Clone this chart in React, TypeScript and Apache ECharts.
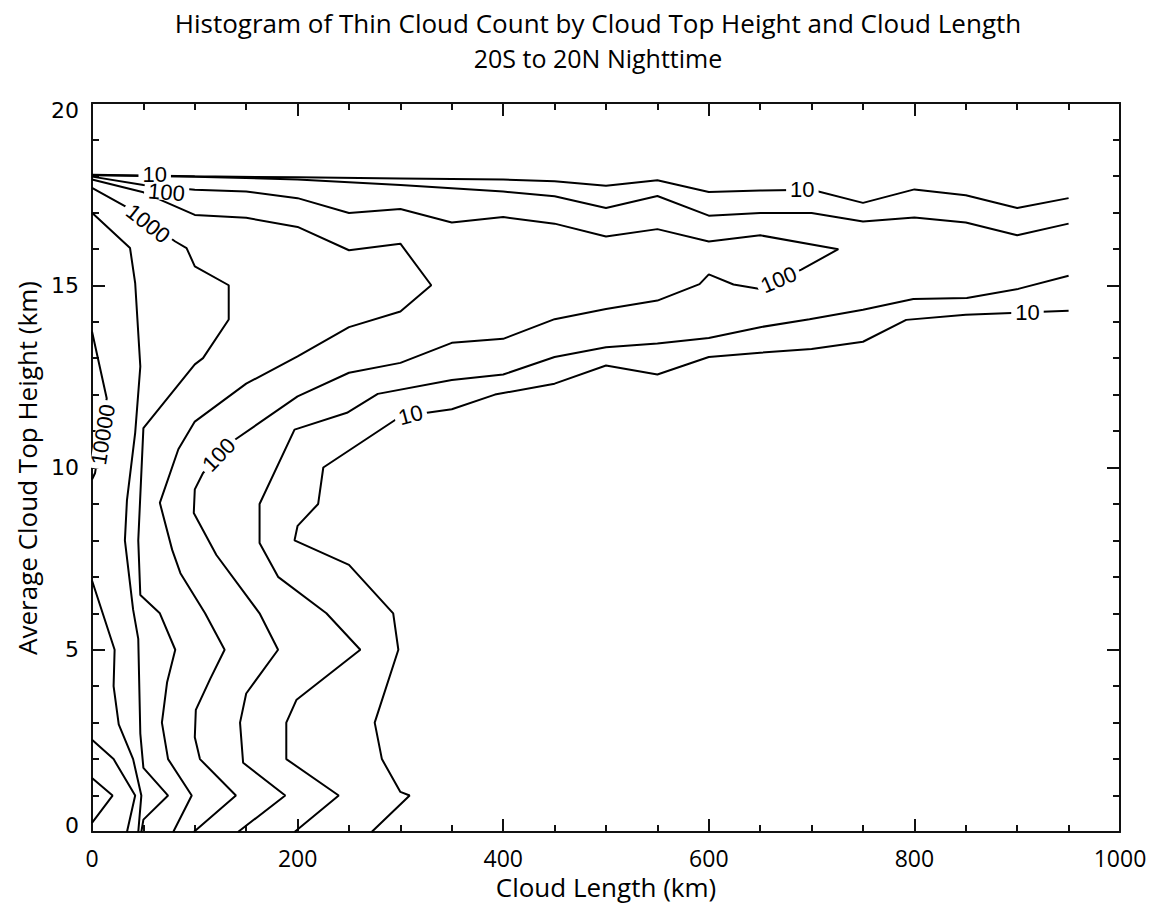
import React, { useEffect, useRef } from "react";
import * as echarts from "echarts";

// Contour polylines of the thin-cloud count histogram: [cloud length (km), cloud top height (km)]
const level10Upper: number[][] = [
  [0, 18.03], [100, 17.99], [200, 17.96], [300, 17.93], [400, 17.9], [450, 17.85], [500, 17.73],
  [550, 17.88], [600, 17.56], [650, 17.6], [700, 17.62], [750, 17.26], [800, 17.63], [850, 17.47],
  [900, 17.12], [950, 17.39],
];
const level10Lower: number[][] = [
  [950, 14.3], [850, 14.19], [792, 14.05], [750, 13.45], [700, 13.25], [650, 13.15], [600, 13.03],
  [550, 12.55], [500, 12.8], [450, 12.3], [392, 12], [350, 11.6], [300, 11.4], [225, 10], [220, 9],
  [200, 8.4], [197, 8], [250, 7.33], [293, 6], [298, 5], [275, 3], [282, 2], [300, 1.1], [309, 1], [272, 0],
];
const level30Upper: number[][] = [
  [0, 18.02], [100, 17.98], [200, 17.9], [300, 17.75], [400, 17.57], [450, 17.44], [500, 17.12],
  [550, 17.45], [600, 16.91], [650, 16.98], [700, 16.98], [750, 16.75], [800, 16.86], [850, 16.72],
  [900, 16.37], [950, 16.69],
];
const level30Lower: number[][] = [
  [950, 15.26], [901, 14.9], [851, 14.65], [799, 14.62], [750, 14.33], [698, 14.07], [650, 13.85],
  [600, 13.55], [550, 13.4], [500, 13.3], [450, 13.03], [400, 12.55], [350, 12.4], [278, 12.02],
  [248, 11.5], [197, 11.04], [163, 9], [163, 7.93], [181, 7], [228, 6], [261, 5], [199, 3.63],
  [189, 3], [189, 2], [240, 1], [197, 0],
];
const level100: number[][] = [
  [0, 17.98], [50, 17.75], [100, 17.62], [150, 17.57], [200, 17.39], [250, 16.98], [300, 17.09],
  [350, 16.72], [400, 16.87], [450, 16.69], [500, 16.34], [550, 16.54], [600, 16.2], [650, 16.37],
  [726, 15.99], [690, 15.43], [650, 14.9], [624, 15.02], [600, 15.3], [591, 15.03], [550, 14.58],
  [500, 14.35], [450, 14.07], [400, 13.53], [350, 13.42], [300, 12.87], [250, 12.6], [200, 11.95],
  [139, 10.76], [108, 9.85], [100, 9.4], [99, 8.75], [121, 7.6], [163, 6], [181, 5], [150, 3.8],
  [144, 3], [147, 1.9], [188, 1], [142, 0],
];
const level300: number[][] = [
  [0, 17.9], [50, 17.55], [100, 16.93], [150, 16.85], [200, 16.6], [250, 15.96], [300, 16.14],
  [330, 15], [300, 14.28], [250, 13.85], [200, 13.05], [150, 12.3], [100, 11.26], [84, 10.5],
  [66, 9.03], [78, 7.74], [86, 7.1], [110, 6], [129, 5], [115, 4.2], [101, 3.35], [100, 2.6],
  [105, 2], [140, 1], [99, 0],
];
const level1000: number[][] = [
  [0, 17.67], [32, 17.17], [81, 16.2], [92, 16.02], [100, 15.52], [133, 15], [133, 14.06], [108, 13],
  [100, 12.83], [50, 11.08], [45, 8], [47, 6.5], [66, 6], [81, 5], [73, 4.1], [68, 3], [74, 2],
  [97, 1], [79, 0],
];
const level3000: number[][] = [
  [0, 16.99], [37, 16.02], [42, 15.06], [47, 12.77], [42, 10.95], [34, 9.1], [32, 8], [40, 6.1],
  [45, 5.3], [47, 2.7], [50, 1.76], [74, 1], [50, 0.34], [48, 0],
];
const level10000Upper: number[][] = [[0, 13.73], [14.3, 11.9], [3, 9.85], [0, 9.67]];
const level10000Lower: number[][] = [
  [0, 6.9], [22, 5], [21, 4], [26, 2.95], [40, 2], [48, 1], [45, 0],
];
const level30000: number[][] = [[0, 2.53], [21, 2], [42, 1], [34, 0]];
const level100000: number[][] = [[0, 1.48], [20, 1], [0, 0.25]];

const contourLines: number[][][] = [
  level10Upper, level10Lower, level30Upper, level30Lower, level100, level300,
  level1000, level3000, level10000Upper, level10000Lower, level30000, level100000,
];

// In-line contour labels: text, position and rotation (degrees)
const labelTexts = ["10", "100", "1000", "10000", "100", "10", "100", "10", "10"];
const labelPoints: number[][] = [
  [61, 18.03], [72.5, 17.55], [54.5, 16.69], [10.7, 10.9], [123.5, 10.35],
  [310, 11.44], [668, 15.15], [691, 17.63], [910, 14.26],
];
const labelAngles = [0, -5, -38, 81, 46, 15, 23, 0, 0];

const xTicks = { min: 0, max: 1000, interval: 200, minorSplit: 4 };
const yTicks = { min: 0, max: 20, interval: 5, minorSplit: 5 };

const titleLines = [
  "Histogram of Thin Cloud Count by Cloud Top Height and Cloud Length",
  "20S to 20N Nighttime",
];
const xTitle = "Cloud Length (km)";
const yTitle = "Average Cloud Top Height (km)";

const SANS = '"Open Sans", "Noto Sans", sans-serif';

function frameAxis(pos: string, t: any, labels: boolean, labelCfg: any) {
  return {
    type: "value",
    position: pos,
    min: t.min,
    max: t.max,
    interval: t.interval,
    axisLine: { show: true, onZero: false, lineStyle: { color: "#111", width: 2 } },
    axisTick: { show: true, inside: true, length: 13, lineStyle: { color: "#111", width: 2 } },
    minorTick: { show: true, splitNumber: t.minorSplit, length: 7, lineStyle: { color: "#111", width: 2 } },
    splitLine: { show: false },
    minorSplitLine: { show: false },
    axisLabel: labels ? labelCfg : { show: false },
  };
}

export default function App() {
  const ref = useRef<HTMLDivElement>(null);

  useEffect(() => {
    if (!ref.current) return;
    const chart = echarts.init(ref.current, null, { renderer: "svg" });

    const lineSeries = contourLines.map((pts, i) => ({
      type: "line",
      name: "contour" + i,
      data: pts,
      xAxisIndex: 0,
      yAxisIndex: 0,
      showSymbol: false,
      symbol: "none",
      smooth: false,
      silent: true,
      clip: false,
      lineStyle: { color: "#000", width: 2 },
      z: 2,
    }));

    const labelSeries = {
      type: "scatter",
      xAxisIndex: 0,
      yAxisIndex: 0,
      symbolSize: 0,
      itemStyle: { color: "#000" },
      silent: true,
      z: 5,
      data: labelPoints.map((p, i) => ({
        value: p,
        label: {
          show: true,
          position: "inside",
          formatter: labelTexts[i],
          rotate: labelAngles[i],
          fontFamily: '"Liberation Sans", Arial, sans-serif',
          fontSize: 22,
          color: "#000",
          opacity: 1,
          textBorderWidth: 0,
          backgroundColor: "#fff",
          lineHeight: 16,
          padding: [0, 4],
        },
      })),
    };

    chart.setOption({
      animation: false,
      backgroundColor: "#fff",
      grid: { left: 92, right: 41, top: 103, bottom: 82, containLabel: false },
      xAxis: [
        frameAxis("bottom", xTicks, true, {
          show: true,
          margin: 14,
          color: "#000",
          fontFamily: SANS,
          fontSize: 23,
          formatter: (v: number) => String(v),
        }),
        frameAxis("top", xTicks, false, null),
      ],
      yAxis: [
        frameAxis("left", yTicks, true, {
          show: true,
          margin: 13,
          color: "#000",
          fontFamily: '"DejaVu Sans", sans-serif',
          fontSize: 22,
          lineHeight: 14,
          verticalAlignMinLabel: "bottom",
          verticalAlignMaxLabel: "top",
          formatter: (v: number) => String(v),
        }),
        frameAxis("right", yTicks, false, null),
      ],
      series: [...lineSeries, labelSeries],
      graphic: [
        {
          type: "text",
          x: 598,
          y: 23,
          style: {
            text: titleLines[0],
            fill: "#000",
            font: "26px " + SANS,
            textAlign: "center",
            textVerticalAlign: "middle",
          },
        },
        {
          type: "text",
          x: 598,
          y: 58,
          style: {
            text: titleLines[1],
            fill: "#000",
            font: "25px " + SANS,
            textAlign: "center",
            textVerticalAlign: "middle",
          },
        },
        {
          type: "text",
          x: 606,
          y: 887,
          style: {
            text: xTitle,
            fill: "#000",
            font: "26px " + SANS,
            textAlign: "center",
            textVerticalAlign: "middle",
          },
        },
        {
          type: "text",
          x: 27,
          y: 468,
          rotation: Math.PI / 2,
          style: {
            text: yTitle,
            fill: "#000",
            font: "26px " + SANS,
            textAlign: "center",
            textVerticalAlign: "middle",
          },
        },
      ],
    });

    return () => chart.dispose();
  }, []);

  return (
    <div
      ref={ref}
      style={{ position: "absolute", left: 0, top: 0, width: 1161, height: 914, background: "#fff" }}
    />
  );
}
